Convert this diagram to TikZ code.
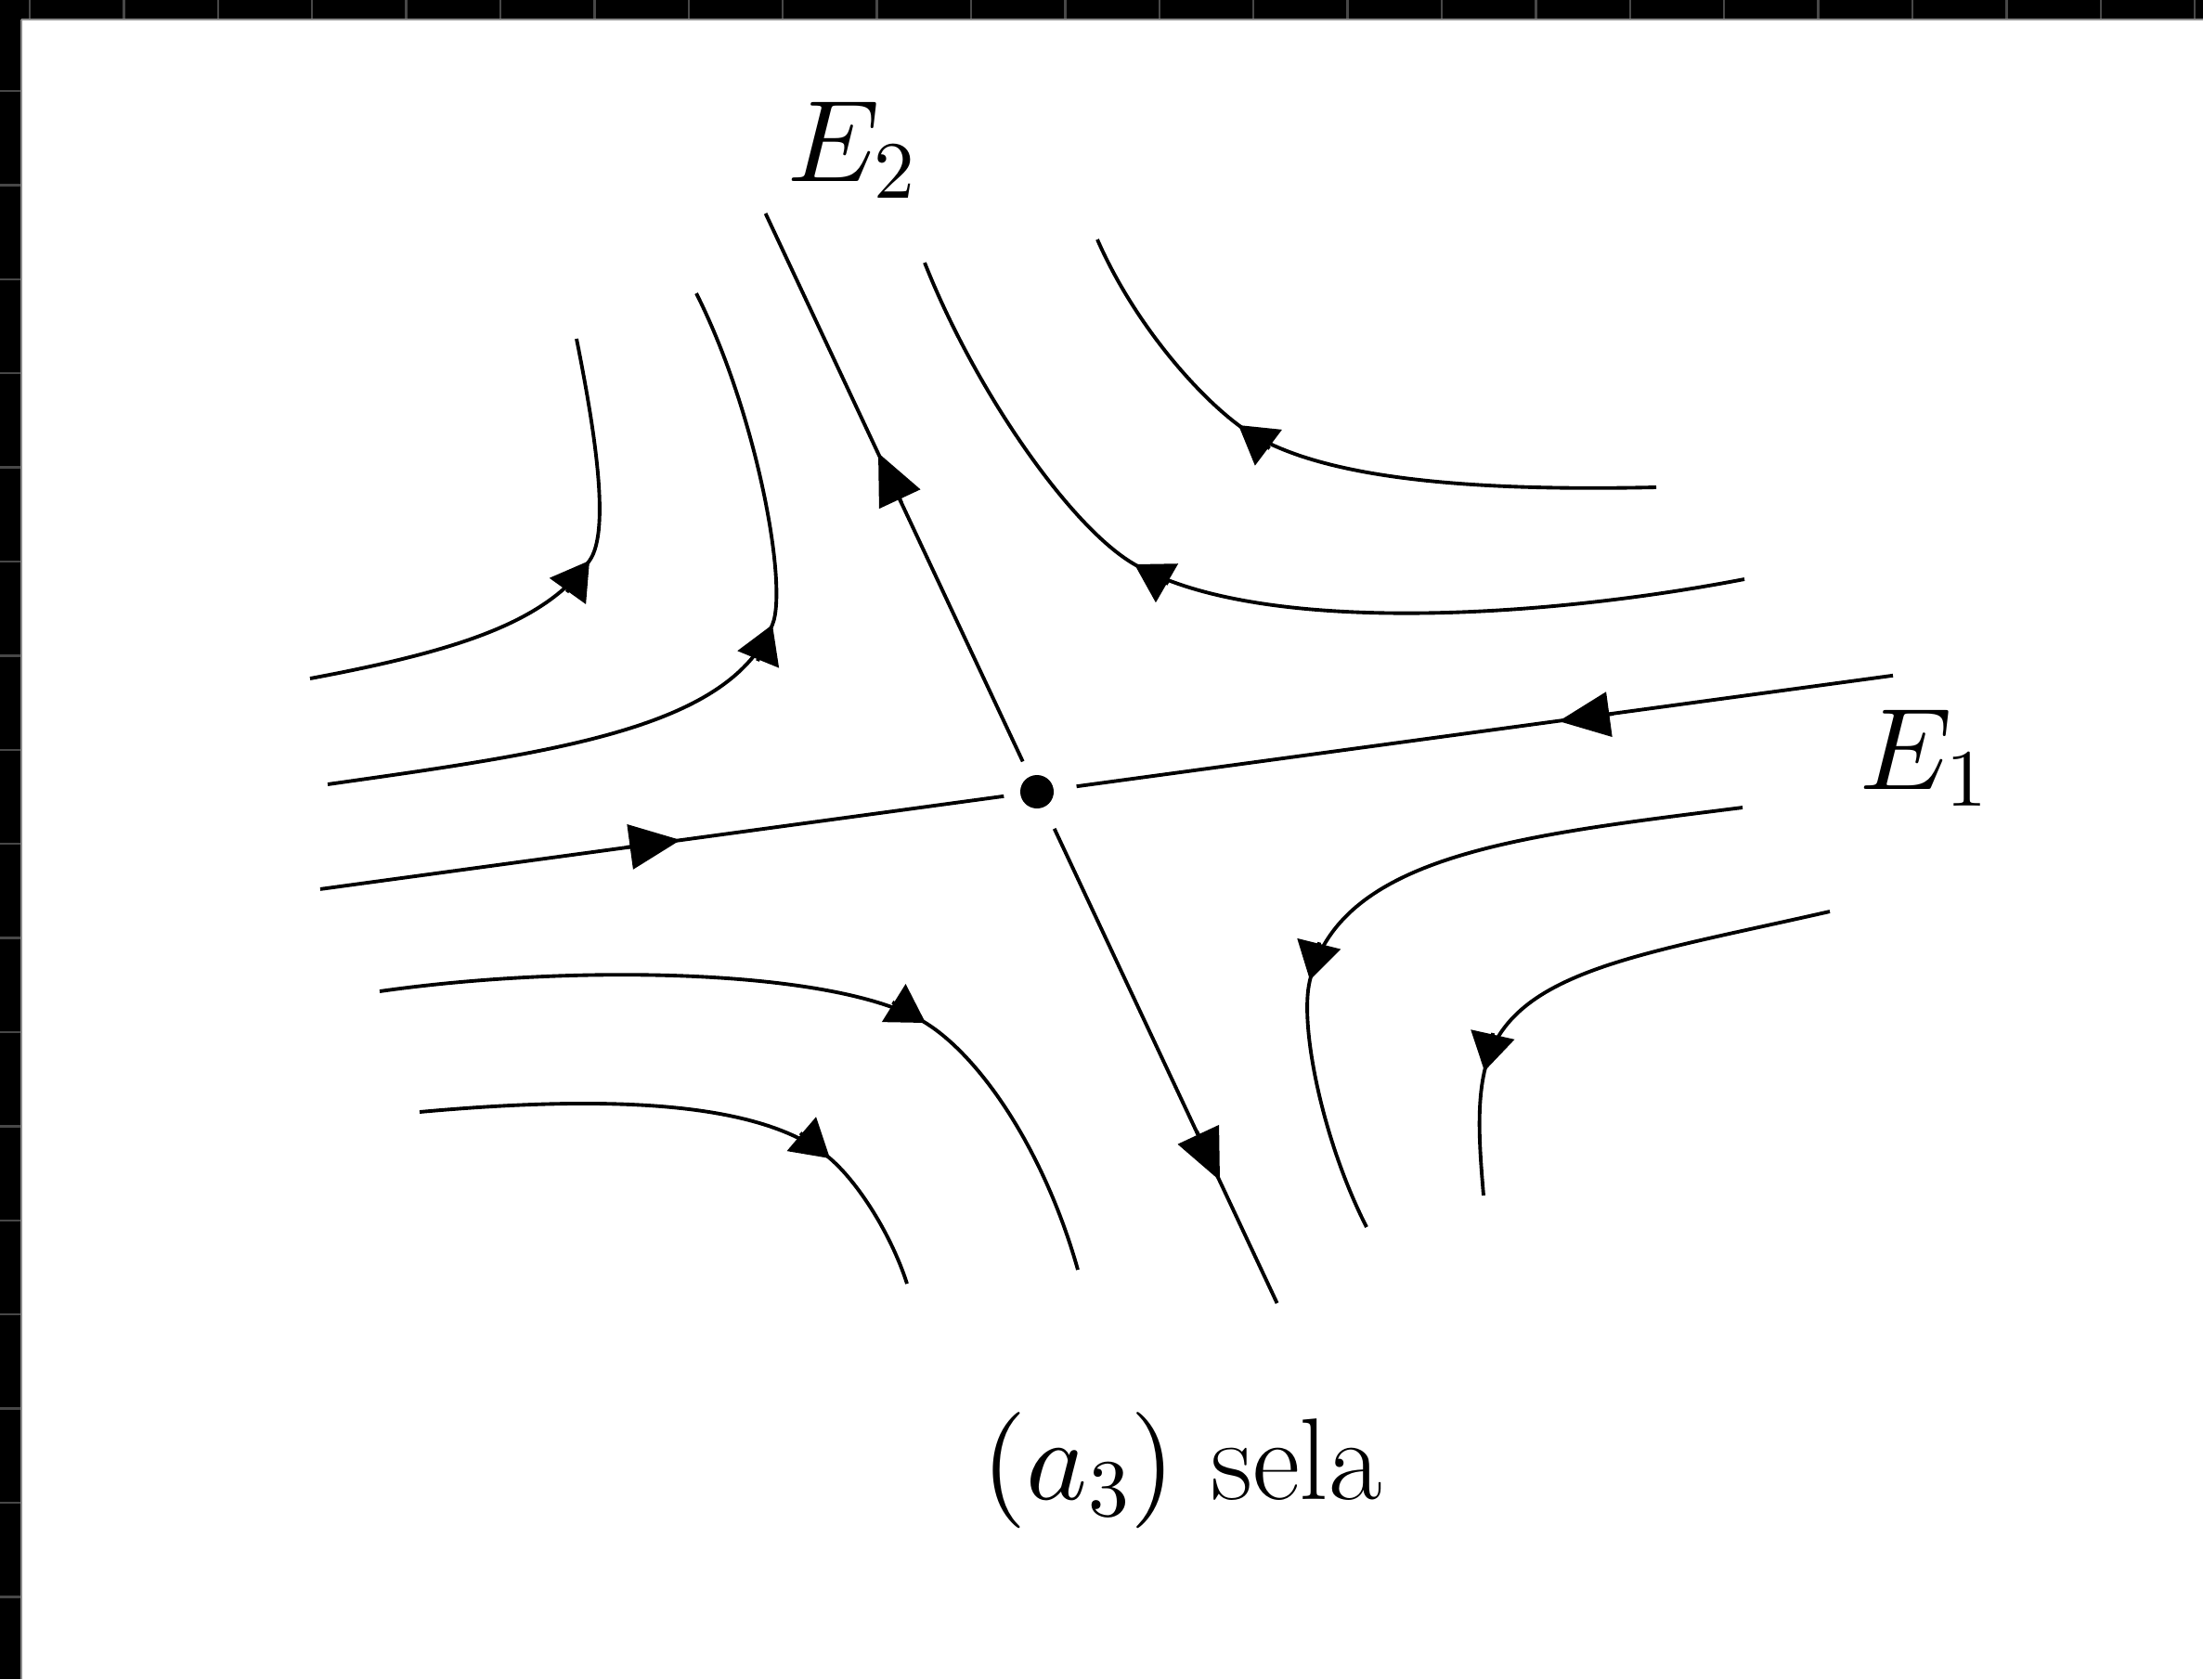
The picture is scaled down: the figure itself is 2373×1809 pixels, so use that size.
\documentclass[tikz,border=0pt]{standalone}
\DeclareFontShape{OML}{cmm}{m}{it}{<->cmmi10}{}
\DeclareFontShape{OT1}{cmr}{m}{n}{<->cmr10}{}
\DeclareFontShape{OMS}{cmsy}{m}{n}{<->cmsy10}{}
\DeclareFontShape{OMX}{cmex}{m}{n}{<->cmex10}{}
\usetikzlibrary{arrows.meta}
\tikzset{
  traj/.style={line width=1.1pt},
  carrow/.style={-{Triangle[length=11.5pt,width=13.5pt]}, line width=1.1pt},
  sarrow/.style={-{Triangle[length=15.6pt,width=13.7pt]}, line width=1.1pt},
  rulertick/.style={draw=black!72, line width=0.7pt},
  lab/.style={inner sep=0pt, font=\fontsize{35.6}{42}\selectfont},
}
\begin{document}
\begin{tikzpicture}[x=0.01cm, y=-0.01cm]
\useasboundingbox (0,0) rectangle (2373,1809);
\fill[white] (0,0) rectangle (2373,1809);
% screenshot frame (black bands with ticks)
\fill[black] (0,0) rectangle (2373,21);
\fill[black] (0,0) rectangle (23,1809);
\foreach \i in {0,...,23} \draw[rulertick] ({32+101.4*\i},0) -- ({32+101.4*\i},21);
\foreach \i in {0,...,16} \draw[rulertick] (0,{98+101.4*\i}) -- (23,{98+101.4*\i});
\draw[black!45, line width=0.4pt] (23,21) -- (2373,21);
\draw[black!45, line width=0.4pt] (23,21) -- (23,1809);

% saddle point
\coordinate (O) at (1117,853);
\fill (O) circle[radius=0.18cm];

% eigen-directions
\draw[traj] (345,957.9) -- (1081.3,857.8);
\draw[traj] (1159.6,847.2) -- (2039,727.8);
\draw[traj] (824.6,230) -- (1101.7,820.4);
\draw[traj] (1135.7,892.8) -- (1375.6,1404);
\draw[sarrow] (674,913) -- (733,905);
\draw[sarrow] (1738,769) -- (1679,777);
\draw[sarrow] (971,541.5) -- (946,488);
\draw[sarrow] (1289,1218.5) -- (1314,1272);

% upper left trajectories
\draw[traj] (334,731) .. controls (500,700) and (588.6,668.8) .. (635,604)
                      .. controls (658.2,571.6) and (640,460) .. (621,365);
\draw[traj] (353,845) .. controls (600,810) and (786,785) .. (832,673)
                      .. controls (849.1,631.2) and (815,445) .. (750,316);
\draw[carrow] (610.6,638) -- (635,604);
\draw[carrow] (816,712.1) -- (832,673);

% upper right trajectories
\draw[traj] (1784,525) .. controls (1560,530) and (1406,512) .. (1334,458)
                       .. controls (1286,422) and (1220,345) .. (1182,258);
\draw[traj] (1879,624) .. controls (1650,668) and (1352,683) .. (1222,608)
                       .. controls (1152.7,568) and (1050,420) .. (996,283);
\draw[carrow] (1367.6,483.2) -- (1334,458);
\draw[carrow] (1258.4,629) -- (1222,608);

% lower left trajectories
\draw[traj] (409,1068) .. controls (620,1038) and (903.5,1043.7) .. (997,1102)
                       .. controls (1056.5,1139.1) and (1125,1240) .. (1161,1368);
\draw[traj] (452,1198) .. controls (650,1180) and (820.3,1185) .. (894,1248)
                       .. controls (924.4,1274) and (960,1330) .. (977,1383);
\draw[carrow] (961.3,1079.7) -- (997,1102);
\draw[carrow] (862.1,1220.7) -- (894,1248);

% lower right trajectories
\draw[traj] (1877,870) .. controls (1640,900) and (1444.6,920.2) .. (1411,1056)
                       .. controls (1399,1104.5) and (1425,1230) .. (1472,1322);
\draw[traj] (1971,982) .. controls (1760,1030) and (1623.2,1046.8) .. (1599,1154)
                       .. controls (1590.2,1193) and (1594,1240) .. (1598,1288);
\draw[carrow] (1421.1,1015.3) -- (1411,1056);
\draw[carrow] (1608.2,1113) -- (1599,1154);

% labels
\node[lab, anchor=base west] (E2) at (848,195) {$E_2$};
\node[lab, anchor=base west] (E1) at (2003,850) {$E_1$};
\node[lab, anchor=base] (cap) at (1273,1615) {$(a_3)$ sela};
\end{tikzpicture}
\end{document}
